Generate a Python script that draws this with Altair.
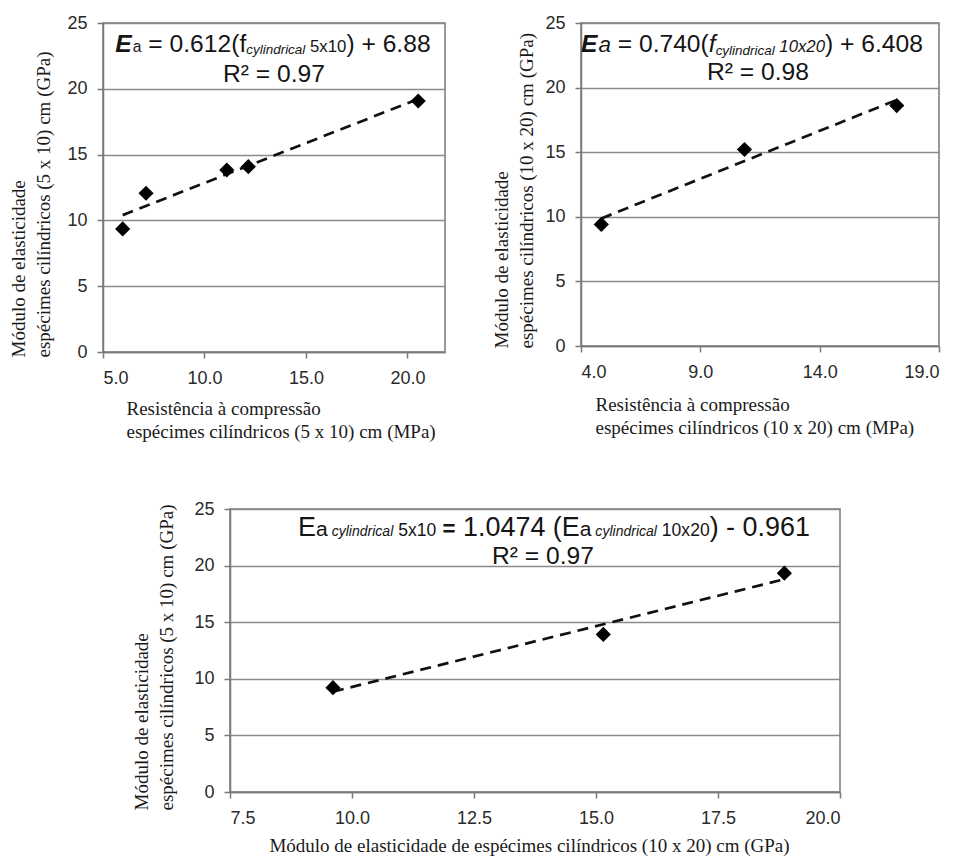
import altair as alt
import pandas as pd

# ---------------- data ----------------
f_cyl_5x10 = [5.97, 7.12, 11.10, 12.16, 20.53]      # MPa
Ea_cyl_5x10 = [9.35, 12.06, 13.83, 14.08, 19.07]     # GPa

f_cyl_10x20 = [4.85, 10.85, 17.23]                   # MPa
Ea_cyl_10x20 = [9.41, 15.21, 18.61]                  # GPa

Ea_10x20_c = [9.61, 15.15, 18.86]                    # GPa (x of panel 3)
Ea_5x10_c = [9.22, 13.92, 19.33]                     # GPa (y of panel 3)

y_ticks = [0, 5, 10, 15, 20, 25]
x_ticks_1 = [5.0, 10.0, 15.0, 20.0]
x_ticks_2 = [4.0, 9.0, 14.0, 19.0]
x_ticks_3 = [7.5, 10.0, 12.5, 15.0, 17.5, 20.0]

SANS = "Liberation Sans"
SERIF = "Liberation Serif"

# Arial / Liberation Sans advance widths (per 1000 em)
ADV = {' ': 278, '(': 333, ')': 333, '+': 584, '-': 333, '.': 278, '=': 584,
       'E': 667, 'R': 722, 'a': 556, 'c': 500, 'd': 556, 'f': 278, 'i': 222,
       'l': 222, 'n': 556, 'r': 333, 'y': 500, 'x': 500, '\u00b2': 333}


def tw(s, size, bold=False):
    w = sum(ADV.get(ch, 556) for ch in s) * size / 1000.0
    return w * (1.06 if bold else 1.0)


def equation_layers(pieces, cx, base_y, k):
    """pieces: (text, size, style, weight, dy)"""
    pieces = [(t, s * k, st, w, dy) for t, s, st, w, dy in pieces]
    total = sum(tw(t, s, w == "bold") for t, s, st, w, dy in pieces)
    x = cx - total / 2.0
    layers = []
    for t, s, st, w, dy in pieces:
        lead = len(t) - len(t.lstrip(' '))
        body = t.strip(' ')
        xx = x + tw(' ' * lead, s)
        layers.append(
            alt.Chart(pd.DataFrame({"t": [body]}))
            .mark_text(align="left", baseline="alphabetic", font=SANS,
                       fontSize=s, fontStyle=st, fontWeight=w, color="#151515")
            .encode(x=alt.value(xx), y=alt.value(base_y + dy), text="t:N")
        )
        x += tw(t, s, w == "bold")
    return layers


def r2_layer(txt, cx, base_y, size):
    return (alt.Chart(pd.DataFrame({"t": [txt]}))
            .mark_text(align="center", baseline="alphabetic", font=SANS,
                       fontSize=size, color="#151515")
            .encode(x=alt.value(cx), y=alt.value(base_y), text="t:N"))


def panel(xs, ys, xdom, xticks, w, h, xtitle, ytitle, xt, yt, eq, r2):
    df = pd.DataFrame({"x": xs, "y": ys})
    xax = alt.Axis(values=xticks, format=".1f", grid=False, tickSize=6,
                   labelPadding=11, title=xtitle, titleAlign=xt["align"],
                   titleBaseline="top", titleX=xt["x"], titleY=xt["y"],
                   titleLineHeight=23)
    yax = alt.Axis(values=y_ticks, format="d", grid=True, tickSize=6,
                   labelPadding=10, title=ytitle, titleAlign="left",
                   titleBaseline="top", titleX=yt["x"], titleY=yt["y"],
                   titleLineHeight=25)
    xenc = alt.X("x:Q", scale=alt.Scale(domain=xdom, nice=False, zero=False), axis=xax)
    yenc = alt.Y("y:Q", scale=alt.Scale(domain=[0, 25], nice=False), axis=yax)
    base = alt.Chart(df)
    trend = (base.transform_regression("x", "y")
             .mark_line(color="#111111", strokeWidth=2.7, strokeDash=[11, 7])
             .encode(x=xenc, y=yenc))
    pts = base.mark_point(shape="diamond", filled=True, size=230, color="#000000",
                          opacity=1).encode(x=xenc, y=yenc)
    layers = [trend, pts] + equation_layers(*eq) + [r2_layer(*r2)]
    return alt.layer(*layers).properties(width=w, height=h)


c1 = panel(
    f_cyl_5x10, Ea_cyl_5x10, [5, 21.85], x_ticks_1, 342, 329,
    ["Resistência à compressão", "espécimes cilíndricos (5 x 10) cm (MPa)"],
    ["Módulo de elasticidade", "espécimes cilíndricos (5 x 10) cm (GPa)"],
    {"align": "left", "x": 23, "y": 47},
    {"x": -94, "y": 334},
    ([("E", 22, "italic", "bold", 0), ("a", 14, "normal", "normal", 0),
      (" = 0.612(f", 22, "normal", "normal", 0),
      ("cylindrical", 12, "italic", "normal", 2),
      (" 5x10", 15, "normal", "normal", 0),
      (") + 6.88", 22, "normal", "normal", 0)], 170, 29, 1.12),
    ("R\u00b2 = 0.97", 171, 59, 24.6),
)

c2 = panel(
    f_cyl_10x20, Ea_cyl_10x20, [4, 19], x_ticks_2, 358, 323,
    ["Resistência à compressão", "espécimes cilíndricos (10 x 20) cm (MPa)"],
    ["Módulo de elasticidade", "espécimes cilíndricos (10 x 20) cm (GPa)"],
    {"align": "left", "x": 14, "y": 49},
    {"x": -89, "y": 325},
    ([("E", 22, "italic", "bold", 0), ("a", 20, "italic", "normal", 0),
      (" = 0.740(", 22, "normal", "normal", 0), ("f", 22, "italic", "normal", 0),
      ("cylindrical", 12, "italic", "normal", 3),
      (" 10x20", 15, "italic", "normal", 0),
      (") + 6.408", 22, "normal", "normal", 0)], 171, 29, 1.12),
    ("R\u00b2 = 0.98", 177, 57, 24.6),
)

c3 = panel(
    Ea_10x20_c, Ea_5x10_c, [7.5, 20], x_ticks_3, 610, 283,
    "Módulo de elasticidade de espécimes cilíndricos (10 x 20) cm (GPa)",
    ["Módulo de elasticidade", "espécimes cilíndricos (5 x 10) cm (GPa)"],
    {"align": "center", "x": 299, "y": 44},
    {"x": -98, "y": 301},
    ([("E", 23, "normal", "normal", 0), ("a", 18, "normal", "normal", 0),
      (" cylindrical", 12, "italic", "normal", 0),
      (" 5x10", 15, "normal", "normal", 0),
      (" = ", 19, "normal", "bold", 0),
      ("1.0474 (", 23, "normal", "normal", 0),
      ("E", 23, "normal", "normal", 0), ("a", 18, "normal", "normal", 0),
      (" cylindrical", 12, "italic", "normal", 0),
      (" 10x20", 15, "normal", "normal", 0),
      (") - 0.961", 23, "normal", "normal", 0)], 324, 27, 1.17),
    ("R\u00b2 = 0.97", 313, 55, 24.6),
)

# empty, borderless cell that only shifts the bottom panel to the right
spacer = (alt.Chart(pd.DataFrame({"t": [""]}))
          .mark_text()
          .encode(text="t:N")
          .properties(width=27, height=10,
                      view=alt.ViewBackground(stroke="transparent")))

top = alt.hconcat(c1, c2, spacing=45)
bottom = alt.hconcat(spacer, c3, spacing=0)
chart = (
    alt.vconcat(top, bottom, spacing=57)
    .properties(padding={"left": 0, "top": 5, "right": 0, "bottom": 0},
                background="white")
    .configure_view(stroke="#7a7a7a", strokeWidth=1.5)
    .configure_axis(domainColor="#7a7a7a", domainWidth=1.5, tickColor="#7a7a7a",
                    tickWidth=1.5, gridColor="#8a8a8a", gridWidth=1.6,
                    labelFont=SANS, labelFontSize=18, labelColor="#2a2a2a",
                    titleFont=SERIF, titleFontSize=19, titleFontWeight="normal",
                    titleColor="#1a1a1a")
)

chart.save("out.html", embed_options={"renderer": "svg", "actions": False})
